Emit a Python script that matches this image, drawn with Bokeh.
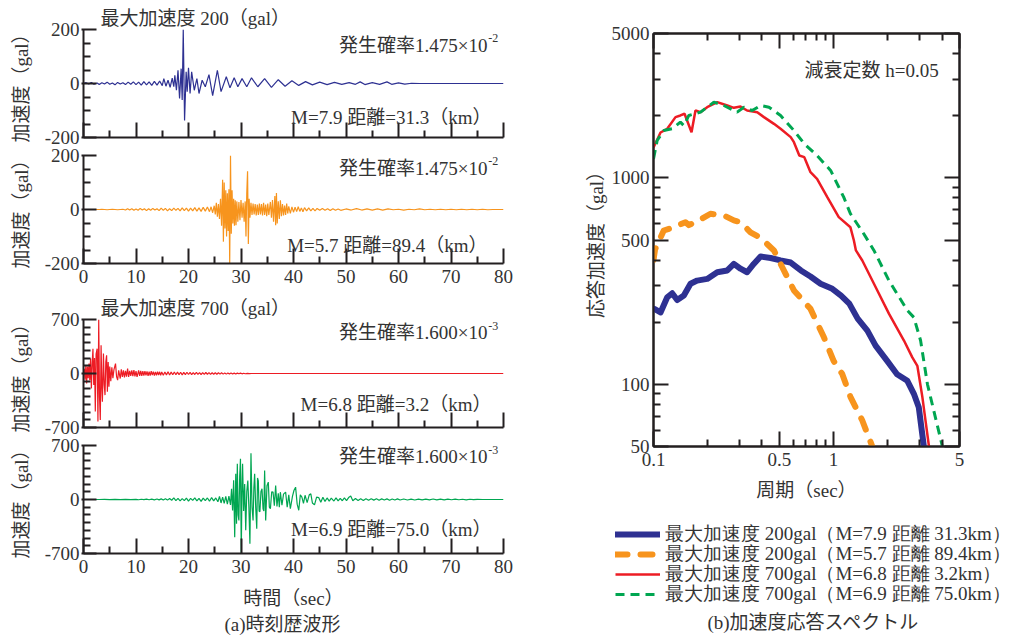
from bokeh.plotting import figure
from bokeh.layouts import row, column
from bokeh.models import (FixedTicker, Label, Legend, LegendItem, LogAxis, Title,
                          CustomJSTickFormatter, Range1d)
from bokeh.embed import file_html
from bokeh.resources import INLINE

FONT = "'Liberation Serif', 'Noto Sans CJK JP'"
TXT = "#333333"
AX = "#231f20"
FS = "19px"

# ---------------- data: time histories (t [s], acceleration [gal]) ----------------
wave1 = [(0,0),(0.5,3),(1.0,-2),(1.5,4),(2.0,-3),(2.6,2),(3.0,-4),(3.5,3),(4.0,-2),(4.5,5),(5.0,-3),
         (5.5,2),(6.0,-5),(6.5,4),(7.0,-2),(7.5,3),(8.0,-4),(8.5,5),(9.0,-3),(9.5,6),(10.0,-4),(10.5,5),
         (11.0,-6),(11.5,7),(12.0,-5),(12.5,6),(13.0,-7),(13.5,8),(14.0,-6),(14.5,9),(15.0,-8),(15.3,18),
         (15.7,-10),(16.1,12),(16.5,-14),(16.9,20),(17.2,-12),(17.4,30),(17.7,-25),(18.0,49),(18.3,-55),
         (18.6,55),(18.8,-61),(19.0,200),(19.25,-137),(19.55,43),(19.75,-30),(20.0,58),(20.3,-37),
         (20.6,43),(21.1,-25),(21.6,18),(22.0,-37),(22.6,12),(23.2,-12),(23.9,33),(24.6,-45),(25.5,49),
         (26.2,-30),(27.2,25),(27.9,-16),(28.7,21),(29.4,-12),(30.2,18),(31.1,-12),(32.0,21),(33.2,-12),
         (34.5,18),(35.8,-14),(37.1,14),(38.4,-10),(39.7,10),(41.0,-7),(42.3,7),(43.6,-5),(45.0,5),
         (46.4,-4),(47.8,4),(49.2,-3),(50.6,3),(51.8,-3),(52.7,6),(53.6,-4),(55.0,3),(56.4,-3),(57.8,6),
         (58.7,-3),(60.0,2),(61.2,-2),(62.5,1),(64,0),(80,0)]

wave2 = [(0,0),(3,0),(3.5,1),(4.5,-1),(5.5,1),(6.5,-1),(7.5,1),(8.0,-2),(8.4,3),(8.8,-2),(9.2,3),(9.6,-3),
         (10.0,2),(10.4,-3),(10.8,4),(11.2,-2),(11.6,3),(12.0,-4),(12.4,3),(12.8,-3),(13.2,4),(13.6,-2),
         (14.0,3),(14.4,-4),(14.8,5),(15.2,-3),(15.6,4),(16.0,-5),(16.4,3),(16.8,-4),(17.2,5),(17.6,-3),
         (18.0,4),(18.4,-5),(18.8,6),(19.2,-4),(19.6,5),(20.0,-6),(20.4,5),(20.8,-5),(21.2,7),(21.6,-6),
         (22.0,6),(22.4,-7),(22.8,8),(23.2,-6),(23.6,9),(24.0,-8),(24.3,10),(24.6,-12),(24.9,14),(25.1,-18),
         (25.3,25),(25.5,-27),(25.7,20),(25.9,-35),(26.1,40),(26.3,-60),(26.5,110),(26.65,-119),(26.8,100),
         (26.95,-70),(27.1,71),(27.25,-100),(27.4,60),(27.55,-80),(27.7,75),(27.85,-200),(28.0,200),
         (28.15,-90),(28.3,71),(28.45,-52),(28.6,40),(28.75,-60),(28.9,34),(29.05,-58),(29.2,30),(29.4,-45),
         (29.6,28),(29.8,-40),(30.0,35),(30.2,-30),(30.4,25),(30.6,-45),(30.8,30),(30.95,-100),(31.1,60),
         (31.25,142),(31.4,-128),(31.55,40),(31.7,-30),(31.9,25),(32.1,-20),(32.3,22),(32.5,-18),(32.7,20),
         (32.9,-22),(33.1,18),(33.3,-20),(33.5,22),(33.7,-18),(33.9,20),(34.1,-22),(34.3,25),(34.5,-20),
         (34.7,18),(34.9,-25),(35.1,22),(35.3,-20),(35.6,28),(35.8,-30),(36.0,35),(36.2,-45),(36.45,50),
         (36.6,-58),(36.75,61),(36.9,-52),(37.1,30),(37.3,-35),(37.5,34),(37.7,-25),(37.9,20),(38.1,-22),
         (38.3,15),(38.5,-20),(38.7,22),(38.9,-15),(39.1,12),(39.4,-14),(39.7,10),(40.0,-10),(40.3,9),
         (40.6,-8),(40.9,10),(41.2,-7),(41.5,6),(41.8,-8),(42.1,7),(42.5,-5),(42.9,6),(43.3,-5),(43.7,4),
         (44.1,-5),(44.5,4),(45,-3),(45.5,4),(46,-3),(46.5,3),(47,-4),(47.5,3),(48,-3),(48.5,2),(49,-3),
         (50,2),(51,-2),(52,3),(53,-2),(54,2),(55,-2),(56,2),(57,-2),(58,2),(59,-1),(60,1),(61,-2),(62,1),
         (63,-1),(64,2),(65,-1),(66,1),(67,-1),(68,1),(69,-1),(70,1),(71,-1),(72,1),(73,-1),(74,1),(75,-1),
         (76,1),(77,-1),(78,0),(80,0)]

wave3 = [(0,0),(0.15,60),(0.3,-80),(0.45,107),(0.6,-129),(0.75,90),(0.9,-60),(1.05,129),(1.2,-86),
         (1.35,193),(1.5,-193),(1.65,120),(1.8,322),(1.95,-150),(2.1,200),(2.25,-494),(2.4,250),(2.6,322),
         (2.75,-623),(2.9,700),(3.05,-300),(3.2,-602),(3.35,365),(3.5,-200),(3.6,-365),(3.8,258),
         (3.95,-150),(4.1,-280),(4.25,150),(4.4,237),(4.55,-237),(4.7,150),(4.85,-172),(5.0,90),(5.2,-100),
         (5.4,80),(5.6,-60),(5.8,50),(6.1,129),(6.3,-40),(6.5,-86),(6.7,40),(7.0,-65),(7.2,55),(7.4,-45),
         (7.6,40),(7.8,-50),(8.0,35),(8.2,-40),(8.4,65),(8.6,-45),(8.8,35),(9.0,-30),(9.2,40),(9.4,-35),
         (9.6,45),(9.8,-38),(10.0,30),(10.2,-45),(10.5,40),(10.7,-30),(10.9,35),(11.1,-32),(11.3,30),
         (11.5,-28),(11.7,32),(11.9,-25),(12.1,28),(12.3,-30),(12.5,25),(12.7,-28),(12.9,30),(13.1,-22),
         (13.3,25),(13.5,-27),(13.7,22),(13.9,-25),(14.1,24),(14.3,-20),(14.5,22),(14.7,-24),(14.9,20),
         (15.2,-22),(15.5,20),(15.8,-18),(16.1,22),(16.4,-20),(16.7,18),(17.0,-17),(17.3,20),(17.6,-16),
         (17.9,18),(18.2,-15),(18.5,16),(18.8,-18),(19.1,15),(19.4,-14),(19.7,16),(20.0,-13),(20.3,14),
         (20.6,-15),(20.9,12),(21.2,-13),(21.5,14),(21.8,-12),(22.1,12),(22.4,-13),(22.7,11),(23.0,-12),
         (23.3,13),(23.6,-10),(23.9,11),(24.2,-12),(24.5,10),(24.8,-9),(25.1,10),(25.4,-10),(25.7,9),
         (26.0,-8),(26.3,9),(26.6,-8),(26.9,7),(27.2,-8),(27.5,7),(27.8,-6),(28.1,7),(28.4,-6),(28.7,5),
         (29.0,-6),(29.3,5),(29.6,-4),(29.9,5),(30.2,-4),(30.5,3),(30.8,-3),(31.2,2),(31.6,-2),(32,0),(80,0)]

wave4 = [(0,0),(3,0),(4,1),(5,-1),(6,1),(7,-1),(8,2),(9,-1),(10,2),(10.5,-3),(11,3),(11.5,-2),(12,4),
         (12.5,-3),(13,5),(13.5,-4),(14,6),(14.4,-5),(14.8,8),(15.2,-6),(15.6,10),(16.0,-8),(16.4,12),
         (16.8,-10),(17.2,20),(17.6,-15),(18.0,14),(18.4,-18),(18.8,12),(19.2,-14),(19.6,18),(20.0,-20),
         (20.4,15),(20.8,-12),(21.2,20),(21.6,-18),(22.0,14),(22.4,-25),(22.8,18),(23.2,-15),(23.6,20),
         (24.0,-22),(24.4,25),(24.8,-18),(25.2,20),(25.6,-30),(25.9,40),(26.2,-45),(26.5,30),(26.8,-50),
         (27.1,40),(27.4,-60),(27.7,45),(28.0,-70),(28.2,138),(28.4,-143),(28.6,250),(28.8,-488),(29.0,333),
         (29.15,-315),(29.3,462),(29.45,-200),(29.6,-272),(29.75,300),(29.9,527),(30.05,-700),(30.2,200),
         (30.3,462),(30.5,-150),(30.7,200),(30.9,-400),(31.1,100),(31.3,246),(31.5,-100),(31.7,-575),
         (31.9,600),(32.1,-100),(32.3,-272),(32.45,150),(32.6,333),(32.8,-100),(33.0,-380),(33.15,280),
         (33.3,240),(33.45,-150),(33.6,-160),(33.8,100),(34.0,140),(34.2,-120),(34.35,-150),(34.5,376),
         (34.7,-272),(34.95,180),(35.2,225),(35.4,-100),(35.6,-120),(35.85,100),(36.1,95),(36.35,-80),
         (36.6,180),(36.85,-90),(37.1,80),(37.3,-100),(37.5,95),(37.8,-75),(38.1,70),(38.5,95),(38.8,-100),
         (39.1,60),(39.4,-120),(39.8,40),(40.1,120),(40.4,160),(40.7,-60),(41.0,-140),(41.3,60),(41.6,30),
         (41.9,-50),(42.2,55),(42.6,-40),(43.0,60),(43.3,73),(43.6,-45),(44.0,-70),(44.4,30),(44.8,25),
         (45.2,-35),(45.6,30),(46.0,-25),(46.4,20),(46.8,-20),(47.2,18),(47.7,-20),(48.1,22),(48.5,-18),
         (48.9,15),(49.3,-16),(49.7,20),(50.1,-15),(50.5,25),(50.9,45),(51.3,-15),(51.8,12),(52.3,-14),
         (52.8,10),(53.3,-12),(53.8,10),(54.3,-9),(54.8,11),(55.3,-8),(55.8,9),(56.3,-10),(56.8,8),
         (57.3,-7),(57.8,8),(58.3,-9),(58.8,7),(59.3,-6),(59.8,8),(60.3,-6),(61,6),(61.7,-7),(62.4,5),
         (63.1,-6),(63.8,5),(64.5,-4),(65.2,5),(65.9,-4),(66.6,6),(67.3,-4),(68,4),(68.7,-5),(69.4,4),
         (70.1,-3),(70.8,4),(71.5,-3),(72.2,3),(72.9,-4),(73.6,3),(74.3,-2),(75,2),(76,0),(80,0)]

peak_titles = ["最大加速度 200（gal）", "最大加速度 700（gal）"]
prob_texts = ["発生確率1.475×10", "発生確率1.475×10", "発生確率1.600×10", "発生確率1.600×10"]
prob_exps = ["-2", "-2", "-3", "-3"]
eq_texts = ["M=7.9 距離=31.3（km）", "M=5.7 距離=89.4（km）", "M=6.8 距離=3.2（km）", "M=6.9 距離=75.0（km）"]
wave_colors = ["#2e3192", "#f7941d", "#ed1c24", "#00a651"]

# ---------------- data: response spectra (period [s], Sa [gal]) ----------------
blue_T = [0.101,0.1094,0.1192,0.127,0.1354,0.1474,0.1605,0.1748,0.1986,0.2259,0.2569,0.2794,0.3042,
          0.331,0.3602,0.393,0.4472,0.5076,0.5778,0.658,0.7441,0.8465,0.9837,1.1,1.222,1.36,1.54,1.71,
          1.983,2.25,2.567,2.79,2.97,3.17]
blue_S = [232,223,264,276,256,269,307,318,324,349,356,383,363,349,383,416,409,398,389,356,333,307,290,
          269,246,208,182,154,130,112,104,90,77.5,50]
orange_T = [0.1,0.102,0.114,0.1298,0.1506,0.157,0.1787,0.2072,0.2459,0.2794,0.3042,0.3456,0.393,0.4664,
            0.5188,0.6021,0.7441,0.8837,1.0,1.118,1.24,1.443,1.64]
orange_S = [400,450,556,577,610,590,622,670,657,622,610,545,512,445,369,285,232,169,130,112,87,66.8,50]
red_T = [0.1,0.1094,0.1192,0.1325,0.141,0.1487,0.1626,0.171,0.1825,0.1986,0.2259,0.2569,0.2794,0.3042,
         0.331,0.3767,0.4104,0.4664,0.5076,0.5778,0.6021,0.645,0.6875,0.7441,0.8093,0.9225,1.068,1.24,
         1.296,1.33,1.443,1.675,2.028,2.458,2.735,2.917,3.109,3.385]
red_S = [1402,1658,1728,1968,2005,2044,1663,2119,2080,2198,2325,2240,2183,2214,2119,2080,1968,1826,1728,
         1574,1488,1283,1259,1065,989,806,645,576,497,445,398,307,220,163,135,123,87,50]
green_T = [0.1,0.1048,0.114,0.127,0.141,0.1474,0.1571,0.1825,0.2164,0.2459,0.2915,0.3175,0.353,0.393,
           0.4375,0.5076,0.6021,0.6875,0.8093,0.9624,1.138,1.24,1.47,1.675,2.028,2.567,2.79,3.04,3.32,4.017]
green_S = [1236,1517,1695,1728,1860,1790,2005,2080,2325,2240,2080,2198,2119,2240,2198,2005,1695,1462,1283,
           1086,806,670,536,445,318,228,211,163,100,50]
legend_labels = ["最大加速度 200gal（M=7.9 距離 31.3km）", "最大加速度 200gal（M=5.7 距離 89.4km）",
                 "最大加速度 700gal（M=6.8 距離 3.2km）", "最大加速度 700gal（M=6.9 距離 75.0km）"]

x_major = [0, 10, 20, 30, 40, 50, 60, 70, 80]
x_minor = [5, 15, 25, 35, 45, 55, 65, 75]

fmt = CustomJSTickFormatter(code="return String(tick)")
blank = CustomJSTickFormatter(code="return ''")


def style_axis(ax, major_in, major_out, minor_in):
    ax.axis_line_color = AX
    ax.axis_line_width = 2
    ax.major_tick_line_color = AX
    ax.major_tick_line_width = 2
    ax.minor_tick_line_color = AX
    ax.minor_tick_line_width = 2
    ax.major_tick_in = major_in
    ax.major_tick_out = major_out
    ax.minor_tick_in = minor_in
    ax.minor_tick_out = 0
    ax.major_label_text_font = FONT
    ax.major_label_text_font_size = FS
    ax.major_label_text_color = TXT
    ax.axis_label_text_font = FONT
    ax.axis_label_text_font_size = FS
    ax.axis_label_text_font_style = "normal"
    ax.axis_label_text_color = TXT


def wave_fig(idx, data, lim, step, h, top, bottom, show_x, xlabel=None):
    p = figure(width=540, height=h, x_range=Range1d(0, 80), y_range=Range1d(-lim, lim),
               output_backend="svg", toolbar_location=None,
               min_border_left=83, min_border_right=37, min_border_top=top, min_border_bottom=bottom)
    p.grid.visible = False
    p.outline_line_color = None
    p.background_fill_color = "white"
    p.border_fill_color = "white"
    t = [d[0] for d in data]
    a = [d[1] for d in data]
    p.line(t, a, line_color=wave_colors[idx], line_width=1.2)
    xa = p.xaxis[0]
    xa.ticker = FixedTicker(ticks=x_major, minor_ticks=x_minor)
    style_axis(xa, 15, 0, 7)
    if show_x:
        xa.formatter = fmt
        xa.major_label_standoff = 6
    else:
        xa.formatter = blank
        xa.major_label_standoff = 0
    if xlabel:
        xa.axis_label = xlabel
        xa.axis_label_standoff = 12
    ya = p.yaxis[0]
    minors = [v for v in range(-lim + step, lim, step) if v != 0]
    ya.ticker = FixedTicker(ticks=[-lim, 0, lim], minor_ticks=minors)
    style_axis(ya, 13, 2, 7)
    ya.formatter = fmt
    ya.major_label_standoff = 2
    ya.axis_label = "加速度（gal）"
    ya.axis_label_standoff = 10
    return p


def add_label(p, x, y, text, align="right", size=FS):
    p.add_layout(Label(x=x, y=y, text=text, text_align=align, text_baseline="middle",
                       text_font=FONT, text_font_size=size, text_color=TXT))


def set_title(p, text):
    p.title.text = text
    p.title.align = "left"
    p.title.offset = 17
    p.title.standoff = 2
    p.title.text_font = FONT
    p.title.text_font_size = FS
    p.title.text_font_style = "normal"
    p.title.text_color = TXT


f1 = wave_fig(0, wave1, 200, 50, 146, 29, 9, False)
f2 = wave_fig(1, wave2, 200, 50, 146, 9, 29, True)
f3 = wave_fig(2, wave3, 700, 100, 144, 27, 9, False)
f4 = wave_fig(3, wave4, 700, 100, 201, 9, 84, True, xlabel="時間（sec）")
set_title(f1, peak_titles[0])
set_title(f3, peak_titles[1])

figs = [f1, f2, f3, f4]
pos = [(141, 170, -126), (152, 178, -133), (531, 622, -402), (557, 648, -389)]
mxs = [77.7, 76.95, 77.7, 77.7]
for i, f in enumerate(figs):
    py, ey, my = pos[i]
    add_label(f, 76.95, py, prob_texts[i])
    add_label(f, 77.1, ey, prob_exps[i], align="left", size="12px")
    add_label(f, mxs[i], my, eq_texts[i])

cap_a = Title(text="(a)時刻歴波形", align="left", offset=141, standoff=0, text_font=FONT,
              text_font_size=FS, text_font_style="normal", text_color=TXT)
f4.add_layout(cap_a, "below")

# ---------------- spectrum figure ----------------
ps = figure(width=479, height=516, x_axis_type="log", y_axis_type="log",
            x_range=Range1d(0.1, 5), y_range=Range1d(50, 5000),
            output_backend="svg", toolbar_location=None,
            min_border_left=113, min_border_right=60, min_border_top=33, min_border_bottom=70)
ps.grid.visible = False
ps.outline_line_color = AX
ps.outline_line_width = 2
ps.background_fill_color = "white"
ps.border_fill_color = "white"

spec_T = [blue_T, orange_T, red_T, green_T]
spec_S = [blue_S, orange_S, red_S, green_S]
spec_styles = [dict(line_color="#2e3192", line_width=6, line_join="round", line_cap="round"),
               dict(line_color="#f7941d", line_width=6, line_dash="12 13", line_cap="round", line_join="round"),
               dict(line_color="#ed1c24", line_width=2.5),
               dict(line_color="#00a651", line_width=3, line_dash="9 6")]
for T, S, st in zip(spec_T, spec_S, spec_styles):
    ps.line(T, S, **st)

sx_tick = FixedTicker(ticks=[0.1, 0.5, 1, 5], minor_ticks=[0.2, 0.3, 0.4, 0.6, 0.7, 0.8, 0.9, 2, 3, 4])
sy_tick = FixedTicker(ticks=[50, 100, 500, 1000, 5000],
                      minor_ticks=[60, 70, 80, 90, 200, 300, 400, 600, 700, 800, 900, 2000, 3000, 4000])
ps.add_layout(LogAxis(), "above")
ps.add_layout(LogAxis(), "right")
for ax in ps.xaxis:
    ax.ticker = sx_tick
    style_axis(ax, 15, 0, 7)
    ax.formatter = fmt
for ax in ps.yaxis:
    ax.ticker = sy_tick
    style_axis(ax, 15, 0, 7)
    ax.formatter = fmt
for ax in ps.above + ps.right:
    ax.formatter = blank
    ax.major_label_standoff = 0
ps.below[0].major_label_standoff = 6
ps.below[0].axis_label = "周期（sec）"
ps.below[0].axis_label_standoff = 11
ps.left[0].major_label_standoff = 4
ps.left[0].axis_label = "応答加速度（gal）"
ps.left[0].axis_label_standoff = 2

add_label(ps, 3.83, 3310, "減衰定数 h=0.05")

# ---------------- legend + caption panel under the spectrum ----------------
pleg = figure(width=479, height=121, x_range=Range1d(0, 479), y_range=Range1d(0, 121),
              output_backend="svg", toolbar_location=None, x_axis_location=None, y_axis_location=None,
              min_border_left=0, min_border_right=0, min_border_top=0, min_border_bottom=0)
pleg.grid.visible = False
pleg.outline_line_color = None
pleg.background_fill_color = "white"
pleg.border_fill_color = "white"
# single-point copies of each series (a one-point line draws nothing) that carry the legend styles
leg_r = [pleg.line([T[0]], [S[0]], **st) for T, S, st in zip(spec_T, spec_S, spec_styles)]
row_centers = [532, 552, 572, 592]
for lab, r, c in zip(legend_labels, leg_r, row_centers):
    lg = Legend(items=[LegendItem(label=lab, renderers=[r])],
                location=(75, 622 - c), label_text_font="'Liberation Serif'", label_text_font_size=FS,
                label_text_color=TXT, glyph_width=45, glyph_height=20, label_height=20, spacing=0,
                padding=0, margin=0, label_standoff=5, border_line_color=None, background_fill_alpha=0)
    pleg.add_layout(lg)
add_label(pleg, 273, 15, "(b)加速度応答スペクトル", align="center")

layout = row(column(f1, f2, f3, f4), column(ps, row(pleg)))
open("out.html", "w").write(file_html(layout, INLINE))
